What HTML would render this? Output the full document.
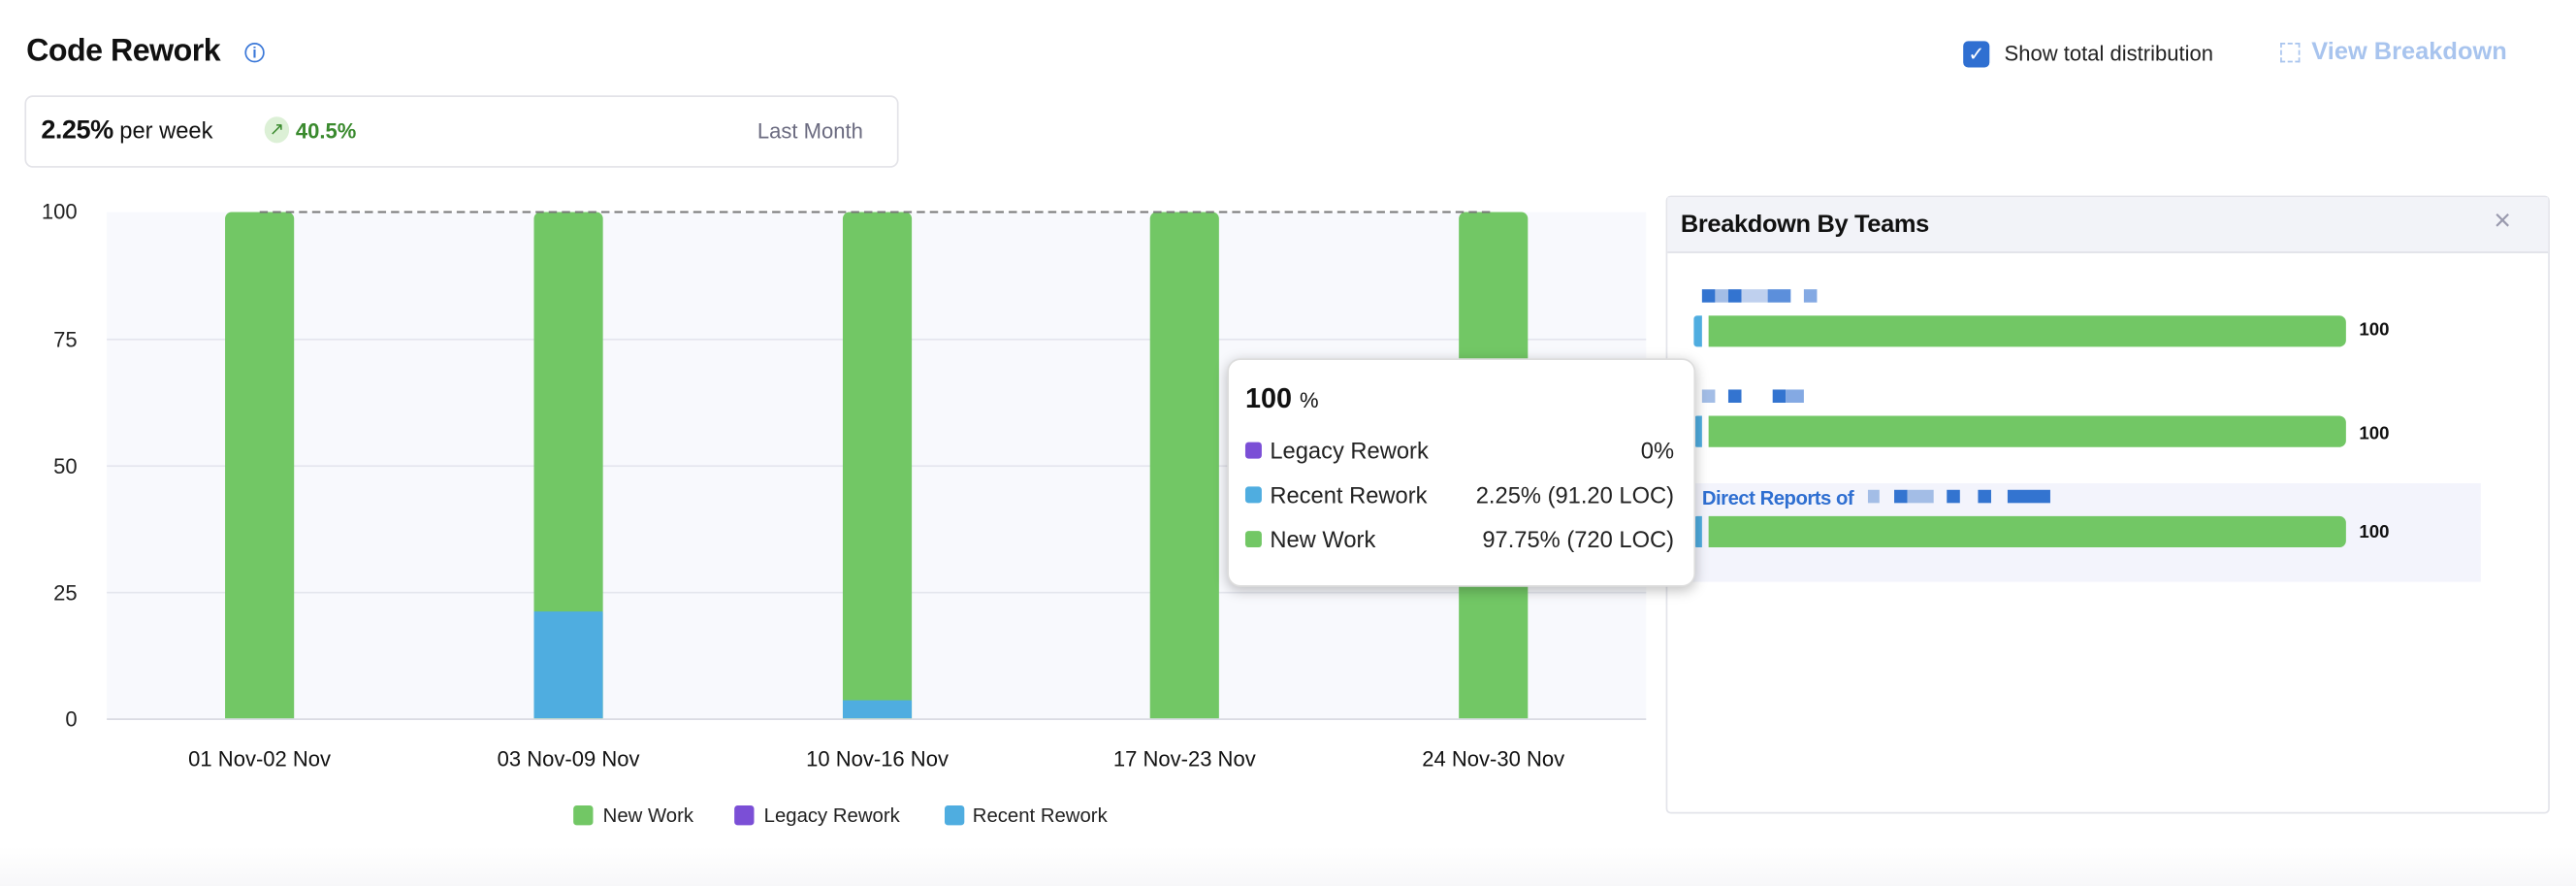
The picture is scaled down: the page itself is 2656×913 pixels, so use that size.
<!DOCTYPE html>
<html><head><meta charset="utf-8"><style>
html,body{margin:0;padding:0;background:#fff;}
body{width:2656px;height:912px;overflow:hidden;position:relative;font-family:"Liberation Sans",sans-serif;}
#w{position:absolute;left:0;top:0;width:1568px;height:538.4px;transform:scale(1.69388);transform-origin:0 0;}
.a{position:absolute;white-space:nowrap;}
.gl{position:absolute;left:65px;width:937px;height:1px;background:#e4e6ee;}
.yl{position:absolute;width:47px;text-align:right;left:0;font-size:13px;color:#222;}
.bar{position:absolute;width:42px;border-radius:4px 4px 0 0;background:#72c765;overflow:hidden;}
.xl{position:absolute;width:160px;text-align:center;font-size:13px;color:#111;top:454px;}
.sq{position:absolute;width:12px;height:12px;border-radius:2px;}
.nb{position:absolute;height:8px;}
</style></head><body><div id="w">
<div class="a" style="left:16px;top:21px;font-size:19px;font-weight:bold;color:#111;letter-spacing:-0.3px;">Code Rework</div>
<div class="a" style="left:149px;top:26px;width:10px;height:10px;border:1.3px solid #3b78d8;border-radius:50%;font-size:9px;color:#3b78d8;text-align:center;line-height:10px;font-weight:bold;">i</div>
<div class="a" style="left:1195px;top:25px;width:16px;height:16px;background:#2f6fd1;border-radius:3px;color:#fff;font-size:12px;text-align:center;line-height:16px;">✓</div>
<div class="a" style="left:1220px;top:25px;font-size:13px;color:#222;">Show total distribution</div>
<div class="a" style="left:1388px;top:26px;width:10px;height:10px;border:1.5px dashed #a8c4ee;"></div>
<div class="a" style="left:1407px;top:23px;font-size:15px;font-weight:bold;color:#a8c4ee;">View Breakdown</div>
<div class="a" style="left:15px;top:58px;width:530px;height:42px;border:1px solid #e3e3e8;border-radius:5px;"></div>
<div class="a" style="left:25px;top:71px;font-size:16px;font-weight:bold;color:#111;letter-spacing:-0.3px;">2.25%<span style="font-weight:normal;font-size:14px;letter-spacing:0"> per week</span></div>
<div class="a" style="left:161px;top:71px;width:15px;height:16px;border-radius:50%;background:#dcf0d6;color:#3a8a2e;font-size:11px;text-align:center;line-height:16px;">↗</div>
<div class="a" style="left:180px;top:72px;font-size:13px;font-weight:bold;color:#3a8a2e;">40.5%</div>
<div class="a" style="left:461px;top:72px;font-size:13px;color:#6b6b80;">Last Month</div>

<div class="a" style="left:65px;top:129px;width:937px;height:308px;background:#f8f9fd;"></div>
<div class="gl" style="top:206px"></div><div class="gl" style="top:283px"></div><div class="gl" style="top:360px"></div><div class="gl" style="top:437px;background:#d8dae2"></div>
<div class="yl" style="top:121px">100</div><div class="yl" style="top:199px">75</div><div class="yl" style="top:276px">50</div><div class="yl" style="top:353px">25</div><div class="yl" style="top:430px">0</div>
<div class="bar" style="left:137px;top:129px;height:308px;"></div>
<div class="bar" style="left:325px;top:129px;height:308px;"><div style="position:absolute;left:0;bottom:0;width:42px;height:65px;background:#4fade0"></div></div>
<div class="bar" style="left:513px;top:129px;height:308px;"><div style="position:absolute;left:0;bottom:0;width:42px;height:11px;background:#4fade0"></div></div>
<div class="bar" style="left:700px;top:129px;height:308px;"></div>
<div class="bar" style="left:888px;top:129px;height:308px;"></div>
<svg class="a" style="left:158px;top:128px" width="752" height="3"><line x1="0" y1="1" x2="752" y2="1" stroke="#777" stroke-width="1.2" stroke-dasharray="5,3"/></svg>
<div class="xl" style="left:78px">01 Nov-02 Nov</div><div class="xl" style="left:266px">03 Nov-09 Nov</div><div class="xl" style="left:454px">10 Nov-16 Nov</div><div class="xl" style="left:641px">17 Nov-23 Nov</div><div class="xl" style="left:829px">24 Nov-30 Nov</div>
<div class="sq" style="left:349px;top:490px;background:#72c765"></div><div class="a" style="left:367px;top:489px;font-size:12px;color:#222">New Work</div>
<div class="sq" style="left:447px;top:490px;background:#7b4fd6"></div><div class="a" style="left:465px;top:489px;font-size:12px;color:#222">Legacy Rework</div>
<div class="sq" style="left:575px;top:490px;background:#4fade0"></div><div class="a" style="left:592px;top:489px;font-size:12px;color:#222">Recent Rework</div>
<div class="a" style="left:0;top:515px;width:1568px;height:24px;background:linear-gradient(#fff,#f7f7f9);"></div>

<div class="a" style="left:1014px;top:119px;width:536px;height:374px;border:1px solid #e3e4ea;border-radius:3px;background:#fff;"></div>
<div class="a" style="left:1015px;top:120px;width:536px;height:33px;background:#f2f3f8;border-bottom:1px solid #e0e1e8;"></div>
<div class="a" style="left:1023px;top:128px;font-size:15px;font-weight:bold;color:#111;letter-spacing:-0.2px;">Breakdown By Teams</div>
<div class="a" style="left:1518px;top:124px;font-size:18px;color:#9a9aae;">×</div>
<div class="nb" style="left:1036px;top:176px;width:8px;background:#3374d0"></div><div class="nb" style="left:1044px;top:176px;width:8px;background:#a3bde6"></div><div class="nb" style="left:1052px;top:176px;width:8px;background:#3374d0"></div><div class="nb" style="left:1060px;top:176px;width:16px;background:#bfd0ee"></div><div class="nb" style="left:1076px;top:176px;width:14px;background:#5c8fdb"></div><div class="nb" style="left:1098px;top:176px;width:8px;background:#84a9e3"></div>
<div class="a" style="left:1031px;top:192px;width:5px;height:19px;background:#4fade0;border-radius:2px 0 0 2px"></div><div class="a" style="left:1040px;top:192px;width:388px;height:19px;background:#72c765;border-radius:0 4px 4px 0"></div>
<div class="a" style="left:1436px;top:195px;font-size:11px;font-weight:bold;color:#111">100</div>
<div class="nb" style="left:1036px;top:237px;width:8px;background:#a3bde6"></div><div class="nb" style="left:1052px;top:237px;width:8px;background:#3374d0"></div><div class="nb" style="left:1079px;top:237px;width:8px;background:#3374d0"></div><div class="nb" style="left:1087px;top:237px;width:11px;background:#84a9e3"></div>
<div class="a" style="left:1031px;top:253px;width:5px;height:19px;background:#4fade0;border-radius:2px 0 0 2px"></div><div class="a" style="left:1040px;top:253px;width:388px;height:19px;background:#72c765;border-radius:0 4px 4px 0"></div>
<div class="a" style="left:1436px;top:258px;font-size:11px;font-weight:bold;color:#111">100</div>
<div class="a" style="left:1030px;top:294px;width:480px;height:60px;background:#f3f4fc;"></div>
<div class="a" style="left:1036px;top:296px;font-size:12px;font-weight:bold;color:#2f6fd1;letter-spacing:-0.3px">Direct Reports of</div>
<div class="nb" style="left:1137px;top:298px;width:7px;background:#a3bde6"></div><div class="nb" style="left:1153px;top:298px;width:8px;background:#3374d0"></div><div class="nb" style="left:1161px;top:298px;width:16px;background:#a3bde6"></div><div class="nb" style="left:1185px;top:298px;width:8px;background:#3374d0"></div><div class="nb" style="left:1204px;top:298px;width:8px;background:#3374d0"></div><div class="nb" style="left:1222px;top:298px;width:26px;background:#3374d0"></div>
<div class="a" style="left:1031px;top:314px;width:5px;height:19px;background:#4fade0;border-radius:2px 0 0 2px"></div><div class="a" style="left:1040px;top:314px;width:388px;height:19px;background:#72c765;border-radius:0 4px 4px 0"></div>
<div class="a" style="left:1436px;top:318px;font-size:11px;font-weight:bold;color:#111">100</div>

<div class="a" style="left:747px;top:218px;width:283px;height:137px;background:#fff;border:1px solid #ddd;border-radius:8px;box-shadow:0 2px 8px rgba(0,0,0,0.25);"></div>
<div class="a" style="left:758px;top:233px;font-size:17px;font-weight:bold;color:#111">100 <span style="font-size:13px;font-weight:normal">%</span></div>
<div class="a" style="left:758px;top:269px;width:10px;height:10px;border-radius:2px;background:#7b4fd6"></div><div class="a" style="left:773px;top:266px;font-size:14px;color:#222">Legacy Rework</div><div class="a" style="right:549px;top:266px;font-size:14px;color:#222">0%</div>
<div class="a" style="left:758px;top:296px;width:10px;height:10px;border-radius:2px;background:#4fade0"></div><div class="a" style="left:773px;top:293px;font-size:14px;color:#222">Recent Rework</div><div class="a" style="right:549px;top:293px;font-size:14px;color:#222">2.25% (91.20 LOC)</div>
<div class="a" style="left:758px;top:323px;width:10px;height:10px;border-radius:2px;background:#72c765"></div><div class="a" style="left:773px;top:320px;font-size:14px;color:#222">New Work</div><div class="a" style="right:549px;top:320px;font-size:14px;color:#222">97.75% (720 LOC)</div>
</div></body></html>
